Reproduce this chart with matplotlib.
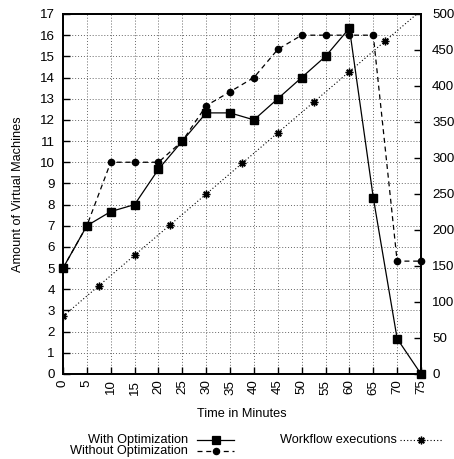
import numpy as np
import matplotlib
matplotlib.use("Agg")
import matplotlib.pyplot as plt
from matplotlib.lines import Line2D

plt.rcParams['font.family'] = ['Liberation Sans', 'DejaVu Sans']
plt.rcParams['font.size'] = 9.6

# data
minutes = [0, 5, 10, 15, 20, 25, 30, 35, 40, 45, 50, 55, 60, 65, 70, 75]
with_opt = [5, 7, 7.67, 8, 9.67, 11, 12.33, 12.33, 12, 13, 14, 15, 16.33, 8.33, 1.67, 0]
without_opt = [5, 7, 10, 10, 10, 11, 12.67, 13.33, 14, 15.33, 16, 16, 16, 16, 5.33, 5.33]
wf_minutes = [0, 7.5, 15, 22.5, 30, 37.5, 45, 52.5, 60, 67.5, 75]
wf_exec = [80, 122.5, 165, 207.5, 250, 292.5, 335, 377.5, 420, 462.5, 505]

fig = plt.figure(figsize=(4.54, 4.59), dpi=100)
ax = fig.add_axes([63/454, 1-374/459, 358/454, 360/459])
ax2 = ax.twinx()

ax.set_xlim(0, 75)
ax.set_ylim(0, 17)
ax2.set_ylim(0, 500)

ax.set_xticks(np.arange(0, 76, 5))
ax.set_yticks(np.arange(0, 18, 1))
ax2.set_yticks(np.arange(0, 501, 50))
ax.grid(True, color='#666666', linestyle=(0, (1, 2)), linewidth=0.7)
ax.set_axisbelow(True)

ax.tick_params(axis='x', direction='in', length=5, width=1, pad=4, labelrotation=90)
ax.tick_params(axis='y', direction='in', length=5, width=1, pad=6)
ax2.tick_params(axis='y', direction='in', length=5, width=1, pad=8)
for a in (ax, ax2):
    for s in a.spines.values():
        s.set_linewidth(1.3)

ax.plot(minutes, with_opt, color='black', linewidth=0.9, marker='s', markersize=6,
        clip_on=False, zorder=5)
ax.plot(minutes, without_opt, color='black', linewidth=0.9, linestyle=(0, (4, 3)),
        marker='o', markersize=4.5, clip_on=False, zorder=4)
ax2.plot(wf_minutes, wf_exec, color='black', linewidth=0.8, linestyle=(0, (1, 2)),
         marker=(8, 2, 0), markersize=5.5, markeredgewidth=1.0)

ax.set_xlabel('Time in Minutes', fontsize=9.2, labelpad=10)
ax.set_ylabel('Amount of Virtual Machines', fontsize=9.2, labelpad=11)

# gnuplot style key below the plot
keys = [
    ('With Optimization', 188, 197, 234, 440, '-', 's', 6, 0.9, 0.9),
    ('Without Optimization', 188, 197, 234, 451, (0, (4, 3)), 'o', 4.5, 0.9, 0.9),
    ('Workflow executions', 397, 400, 442, 440, (0, (1, 2)), (8, 2, 0), 5.5, 0.8, 1.0),
]
for label, tx, x0, x1, y, ls, mk, ms, lw, mew in keys:
    fy = 1 - y/459
    fig.text(tx/454, fy, label, ha='right', va='center', fontsize=9.2)
    fig.add_artist(Line2D([x0/454, x1/454], [fy, fy], color='black',
                          linestyle=ls, linewidth=lw))
    fig.add_artist(Line2D([(x0+x1)/2/454], [fy], color='black', marker=mk,
                          markersize=ms, linestyle='none', markeredgewidth=mew))

fig.savefig('out.png', dpi=100)
